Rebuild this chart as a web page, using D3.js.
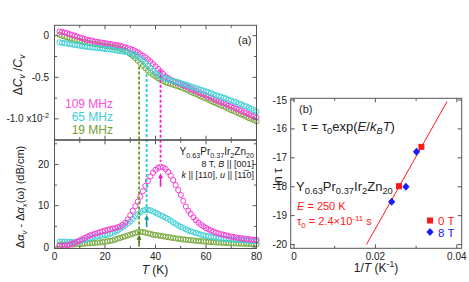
<!DOCTYPE html>
<html>
<head>
<meta charset="utf-8">
<script src="https://cdn.jsdelivr.net/npm/d3@7"></script>
<style>
  body { margin: 0; background: #fff; }
  text { font-family: 'Liberation Sans', Arial, sans-serif; }
</style>
</head>
<body>
<div id="chart"></div>
<script>
// temperatures (K) shared by all panel (a) series
const temps = [2,3,4,5,6,7,8,9,10,11,12,13,14,15,16,17,18,19,20,21,22,23,24,25,26,27,28,29,30,31,32,33,34,35,36,37,38,39,40,41,
  42,43,44,45,46,47,48,49,50,51,52,53,54,55,56,57,58,59,60,61,62,63,64,65,66,67,68,69,70,71,72,73,74,75,76,77,78,79,80];

// dCv/Cv (x1e-2)
const cv109 = [0.05,0.045,0.04,0.03,0.02,0.01,0,-0.01,-0.02,-0.03,-0.04,-0.05,-0.055,-0.06,-0.07,-0.075,-0.08,-0.085,-0.09,-0.095,
  -0.1,-0.105,-0.11,-0.115,-0.12,-0.13,-0.14,-0.15,-0.16,-0.17,-0.185,-0.2,-0.22,-0.24,-0.26,-0.285,-0.31,-0.34,-0.37,-0.4,
  -0.43,-0.46,-0.49,-0.51,-0.53,-0.545,-0.56,-0.57,-0.58,-0.595,-0.61,-0.625,-0.64,-0.655,-0.665,-0.68,-0.695,-0.705,-0.72,-0.735,
  -0.745,-0.76,-0.775,-0.785,-0.8,-0.81,-0.825,-0.84,-0.85,-0.865,-0.88,-0.89,-0.905,-0.92,-0.93,-0.945,-0.96,-0.97,-0.985];
const cv65 = [-0.08,-0.085,-0.09,-0.095,-0.1,-0.105,-0.11,-0.115,-0.12,-0.125,-0.13,-0.135,-0.14,-0.14,-0.145,-0.15,-0.15,-0.155,-0.16,-0.16,
  -0.165,-0.17,-0.175,-0.18,-0.185,-0.19,-0.195,-0.2,-0.21,-0.22,-0.235,-0.25,-0.275,-0.3,-0.33,-0.36,-0.39,-0.42,-0.45,-0.47,
  -0.49,-0.505,-0.515,-0.525,-0.535,-0.545,-0.55,-0.56,-0.57,-0.58,-0.59,-0.6,-0.61,-0.62,-0.63,-0.64,-0.65,-0.66,-0.67,-0.68,
  -0.69,-0.705,-0.715,-0.725,-0.735,-0.745,-0.755,-0.77,-0.78,-0.79,-0.8,-0.815,-0.825,-0.84,-0.85,-0.865,-0.88,-0.895,-0.915];
const cv19 = [0.01,0,-0.01,-0.02,-0.03,-0.04,-0.05,-0.055,-0.06,-0.07,-0.075,-0.08,-0.09,-0.095,-0.1,-0.105,-0.11,-0.115,-0.12,-0.125,
  -0.13,-0.135,-0.14,-0.145,-0.155,-0.165,-0.18,-0.2,-0.22,-0.245,-0.27,-0.3,-0.33,-0.36,-0.39,-0.42,-0.445,-0.47,-0.49,-0.51,
  -0.53,-0.545,-0.56,-0.57,-0.58,-0.59,-0.6,-0.61,-0.62,-0.635,-0.645,-0.66,-0.675,-0.69,-0.7,-0.715,-0.73,-0.745,-0.755,-0.77,
  -0.785,-0.8,-0.81,-0.825,-0.84,-0.85,-0.865,-0.88,-0.895,-0.905,-0.92,-0.935,-0.945,-0.96,-0.975,-0.99,-1.0,-1.015,-1.03];

// attenuation (dB/cm)
const at109 = [0.3,0.3,0.3,0.4,0.6,0.8,1.0,1.3,1.6,1.9,2.2,2.5,2.8,3.0,3.2,3.4,3.6,3.8,4.0,4.15,
  4.3,4.45,4.6,4.8,5.0,5.4,5.9,6.7,7.7,8.8,9.9,11.0,12.2,13.5,14.8,16.0,17.1,18.0,18.7,19.2,
  19.4,19.3,18.9,18.2,17.3,16.2,15.0,13.8,12.6,11.2,9.8,8.8,8.0,7.2,6.5,5.9,5.4,5.0,4.6,4.3,
  4.0,3.75,3.5,3.3,3.1,2.95,2.8,2.65,2.5,2.4,2.3,2.2,2.1,2.05,1.95,1.9,1.8,1.75,1.7];
const at65 = [1.3,1.3,1.3,1.3,1.2,1.2,1.2,1.3,1.4,1.6,1.7,1.9,2.1,2.3,2.5,2.6,2.7,2.8,2.9,3.0,
  3.2,3.4,3.7,4.0,4.4,4.8,5.2,5.7,6.2,6.8,7.4,7.9,8.4,8.8,9.0,9.0,8.9,8.6,8.3,8.0,
  7.7,7.4,7.1,6.8,6.4,6.0,5.6,5.2,4.9,4.6,4.3,4.0,3.8,3.6,3.4,3.2,3.0,2.85,2.7,2.6,
  2.5,2.4,2.3,2.2,2.1,2.0,1.95,1.9,1.85,1.8,1.75,1.7,1.65,1.6,1.55,1.5,1.45,1.4,1.4];
const at19 = [0.6,0.6,0.6,0.6,0.6,0.6,0.6,0.7,0.7,0.8,0.8,0.9,0.9,1.0,1.0,1.1,1.1,1.2,1.3,1.4,
  1.5,1.6,1.8,2.0,2.2,2.4,2.6,2.8,3.0,3.2,3.4,3.6,3.7,3.6,3.5,3.3,3.2,3.0,2.9,2.8,
  2.7,2.6,2.5,2.4,2.3,2.2,2.1,2.0,1.9,1.85,1.8,1.7,1.65,1.6,1.5,1.45,1.4,1.35,1.3,1.25,
  1.2,1.15,1.1,1.1,1.05,1.0,1.0,0.95,0.9,0.9,0.85,0.85,0.8,0.8,0.8,0.75,0.75,0.7,0.7];

// peak markers: dashed guide from cv curve down to attenuation peak, plus arrow
const peakT = [33.5, 36.5, 42];
const peakCv = [-0.37, -0.46, -0.41];
const peakEnd = [1.0, 7.8, 20.6];
const arrowFrom = [0.1, 4.8, 14.6];
const arrowTo = [2.7, 7.6, 17.6];

// panel (b): ln tau vs 1/T
const inv0T = [0.0258, 0.0313];
const lnTau0T = [-17.98, -16.62];
const inv8T = [0.0240, 0.0275, 0.0301];
const lnTau8T = [-18.52, -18.0, -16.79];
const fitE = 250;
const fitTau0 = 2.4e-11;
const fitRange = [0.0178, 0.0376];

const width = 469, height = 282;
const cMag = "#f540d6", cCyan = "#3fd0d6", cGreen = "#78a83c";
const cRed = "#ff1a1a", cBlue = "#1a1aff";

const svg = d3.select("#chart").append("svg")
  .attr("width", width).attr("height", height)
  .attr("viewBox", [0, 0, width, height]);

function rich(g, x, y, parts, size, color, anchor) {
  const t = g.append("text").attr("x", x).attr("y", y)
    .attr("font-size", size).attr("fill", color || "#222")
    .attr("text-anchor", anchor || "start");
  let shift = 0;
  parts.forEach(p => {
    const s = typeof p === "string" ? p : p[0];
    const mode = typeof p === "string" ? "" : p[1];
    let target = 0;
    if (mode.includes("sub")) target = size * 0.25;
    if (mode.includes("sup")) target = -size * 0.4;
    const ts = t.append("tspan").text(s).attr("dy", target - shift);
    if (mode.includes("sub") || mode.includes("sup")) ts.attr("font-size", size * 0.72);
    if (mode.includes("it")) ts.attr("font-style", "italic");
    shift = target;
  });
  return t;
}

function frame(g, x, y) {
  const [x0, x1] = x.range(), [y0, y1] = y.range();
  g.append("rect").attr("x", x0).attr("y", y1).attr("width", x1 - x0).attr("height", y0 - y1)
    .attr("fill", "none").attr("stroke", "#555").attr("stroke-width", 1);
}

function ticks(g, x, y, xMajor, xMinor, yMajor, yMinor) {
  const [x0, x1] = x.range(), [y0, y1] = y.range();
  const seg = [];
  xMajor.forEach(v => { seg.push([x(v), y0, x(v), y0 - 4]); seg.push([x(v), y1, x(v), y1 + 4]); });
  xMinor.forEach(v => { seg.push([x(v), y0, x(v), y0 - 2.5]); seg.push([x(v), y1, x(v), y1 + 2.5]); });
  yMajor.forEach(v => { seg.push([x0, y(v), x0 + 4, y(v)]); seg.push([x1, y(v), x1 - 4, y(v)]); });
  yMinor.forEach(v => { seg.push([x0, y(v), x0 + 2.5, y(v)]); seg.push([x1, y(v), x1 - 2.5, y(v)]); });
  g.append("g").selectAll("line").data(seg).join("line")
    .attr("x1", d => d[0]).attr("y1", d => d[1]).attr("x2", d => d[2]).attr("y2", d => d[3])
    .attr("stroke", "#555").attr("stroke-width", 1);
}

// ---------- panel (a) ----------
const x = d3.scaleLinear().domain([0, 80]).range([54.5, 256.5]);
const yCv = d3.scaleLinear().domain([-1.25, 0.125]).range([139.7, 25.3]);
const yAt = d3.scaleLinear().domain([-0.36, 25.85]).range([248.5, 140.3]);

const pa = svg.append("g");

function circles(g, ys, vals, color) {
  g.append("g").selectAll("circle").data(vals).join("circle")
    .attr("cx", (d, i) => x(temps[i])).attr("cy", d => ys(d)).attr("r", 2.6)
    .attr("fill", "none").attr("stroke", color).attr("stroke-width", 1);
}

circles(pa, yCv, cv19, cGreen);
circles(pa, yCv, cv109, cMag);
circles(pa, yCv, cv65, cCyan);
circles(pa, yAt, at19, cGreen);
circles(pa, yAt, at65, cCyan);
circles(pa, yAt, at109, cMag);

const guideCol = ["#5f9a1e", "#20d0d8", "#ff1fd0"];
pa.append("g").selectAll("line").data(peakT).join("line")
  .attr("x1", d => x(d)).attr("x2", d => x(d))
  .attr("y1", (d, i) => yCv(peakCv[i])).attr("y2", (d, i) => yAt(peakEnd[i]))
  .attr("stroke", (d, i) => guideCol[i]).attr("stroke-width", 1.8)
  .attr("stroke-dasharray", "3,2");

const arrowCol = ["#4c7a1a", "#129aa6", "#e61cc4"];
peakT.forEach((t, i) => {
  const ax = x(t), ya = yAt(arrowFrom[i]), yb = yAt(arrowTo[i]);
  pa.append("line").attr("x1", ax).attr("x2", ax).attr("y1", ya).attr("y2", yb + 3)
    .attr("stroke", arrowCol[i]).attr("stroke-width", 1.6);
  pa.append("path").attr("d", `M${ax - 2.5},${yb + 4}L${ax},${yb - 1}L${ax + 2.5},${yb + 4}Z`)
    .attr("fill", arrowCol[i]);
});

frame(pa, x, yCv);
frame(pa, x, yAt);
ticks(pa, x, yCv, [0, 20, 40, 60, 80], [10, 30, 50, 70], [0, -0.5, -1.0], [-0.25, -0.75]);
ticks(pa, x, yAt, [0, 20, 40, 60, 80], [10, 30, 50, 70], [0, 10, 20], [5, 15, 25]);

// tick labels
const tickFs = 10;
[0, 20, 40, 60, 80].forEach(v => {
  pa.append("text").attr("x", x(v)).attr("y", 260).attr("text-anchor", "middle")
    .attr("font-size", tickFs).attr("fill", "#222").text(v);
});
[0, 10, 20].forEach(v => {
  pa.append("text").attr("x", 49).attr("y", yAt(v) + 3.5).attr("text-anchor", "end")
    .attr("font-size", tickFs).attr("fill", "#222").text(v);
});
rich(pa, 49, yCv(0) + 3.5, ["0"], tickFs, "#222", "end");
rich(pa, 49, yCv(-0.5) + 3.5, ["-0.5"], tickFs, "#222", "end");
rich(pa, 49, yCv(-1.0) + 3.5, ["-1.0 x10", ["-2", "sup"]], tickFs, "#222", "end");

// axis titles
rich(pa, 155, 274, [["T", "it"], " (K)"], 12, "#222", "middle");
rich(pa, 0, 0, ["Δ", ["C", "it"], ["v", "sub it"], " /", ["C", "it"], ["v", "sub it"]], 12, "#222", "middle")
  .attr("transform", "translate(22,75) rotate(-90)");
rich(pa, 0, 0, ["Δ", ["α", "it"], ["v", "sub it"], " - Δ", ["α", "it"], ["x", "sub it"], "(ω) (dB/cm)"], 11, "#222", "middle")
  .attr("transform", "translate(24,197) rotate(-90)");

// legend & annotations
rich(pa, 113, 108, ["109 MHz"], 12, "#ff4ce0", "end");
rich(pa, 113, 121, ["65 MHz"], 12, "#3ccfd6", "end");
rich(pa, 113, 134, ["19 MHz"], 12, "#6ea232", "end");
rich(pa, 238, 44, ["(a)"], 11, "#222");
rich(pa, 254, 155, ["Y", ["0.63", "sub"], "Pr", ["0.37", "sub"], "Ir", ["2", "sub"], "Zn", ["20", "sub"]], 10, "#222", "end");
rich(pa, 254, 167, ["8 T, ", ["B", "it"], " || [001]"], 9, "#222", "end");
rich(pa, 254, 178, [["k", "it"], " || [110], ", ["u", "it"], " || [11\u03050]"], 9, "#222", "end");

// ---------- panel (b) ----------
const xb = d3.scaleLinear().domain([-0.0008, 0.0412]).range([290.7, 461.7]);
const yb = d3.scaleLinear().domain([-20.13, -14.94]).range([248.3, 98.3]);
const pb = svg.append("g");

frame(pb, xb, yb);
ticks(pb, xb, yb, [0, 0.02, 0.04], [0.01, 0.03], [-15, -16, -17, -18, -19, -20], []);

[-15, -16, -17, -18, -19, -20].forEach(v => {
  pb.append("text").attr("x", 287).attr("y", yb(v) + 3.5).attr("text-anchor", "end")
    .attr("font-size", tickFs).attr("fill", "#222").text(v);
});
[[0, "0"], [0.02, "0.02"], [0.04, "0.04"]].forEach(([v, s]) => {
  pb.append("text").attr("x", xb(v)).attr("y", 260).attr("text-anchor", "middle")
    .attr("font-size", tickFs).attr("fill", "#222").text(s);
});

const lnT0 = Math.log(fitTau0);
pb.append("path")
  .datum(fitRange)
  .attr("d", d3.line().x(d => xb(d)).y(d => yb(lnT0 + fitE * d)))
  .attr("stroke", cRed).attr("stroke-width", 1).attr("fill", "none");

pb.append("g").selectAll("rect").data(inv0T).join("rect")
  .attr("x", d => xb(d) - 3).attr("y", (d, i) => yb(lnTau0T[i]) - 3)
  .attr("width", 6).attr("height", 6).attr("fill", cRed);
pb.append("g").selectAll("path").data(inv8T).join("path")
  .attr("d", (d, i) => { const cx = xb(d), cy = yb(lnTau8T[i]);
    return `M${cx},${cy - 4}L${cx + 3.6},${cy}L${cx},${cy + 4}L${cx - 3.6},${cy}Z`; })
  .attr("fill", cBlue);

rich(pb, 299, 113, ["(b)"], 11, "#222");
rich(pb, 302, 131, ["τ = τ", ["0", "sub"], "exp(", ["E", "it"], "/", ["k", "it"], ["B", "sub it"], ["T", "it"], ")"], 13, "#222");
rich(pb, 296, 191, ["Y", ["0.63", "sub"], "Pr", ["0.37", "sub"], "Ir", ["2", "sub"], "Zn", ["20", "sub"]], 13, "#222");
rich(pb, 297, 210, [["E", "it"], " = 250 K"], 11, cRed);
rich(pb, 297, 225, ["τ", ["0", "sub"], " = 2.4×10", ["-11", "sup"], " s"], 11, cRed);

pb.append("rect").attr("x", 427).attr("y", 217.5).attr("width", 6).attr("height", 6).attr("fill", cRed);
pb.append("path").attr("d", "M430,228L433.6,232L430,236L426.4,232Z").attr("fill", cBlue);
rich(pb, 438, 224.5, ["0 T"], 11.5, cRed);
rich(pb, 438, 237, ["8 T"], 11.5, cBlue);

rich(pb, 376, 272, ["1/", ["T", "it"], " (K", ["-1", "sup"], ")"], 12, "#222", "middle");
rich(pb, 0, 0, ["ln τ"], 12, "#222", "middle").attr("transform", "translate(282,177) rotate(-90)");
</script>
</body>
</html>
